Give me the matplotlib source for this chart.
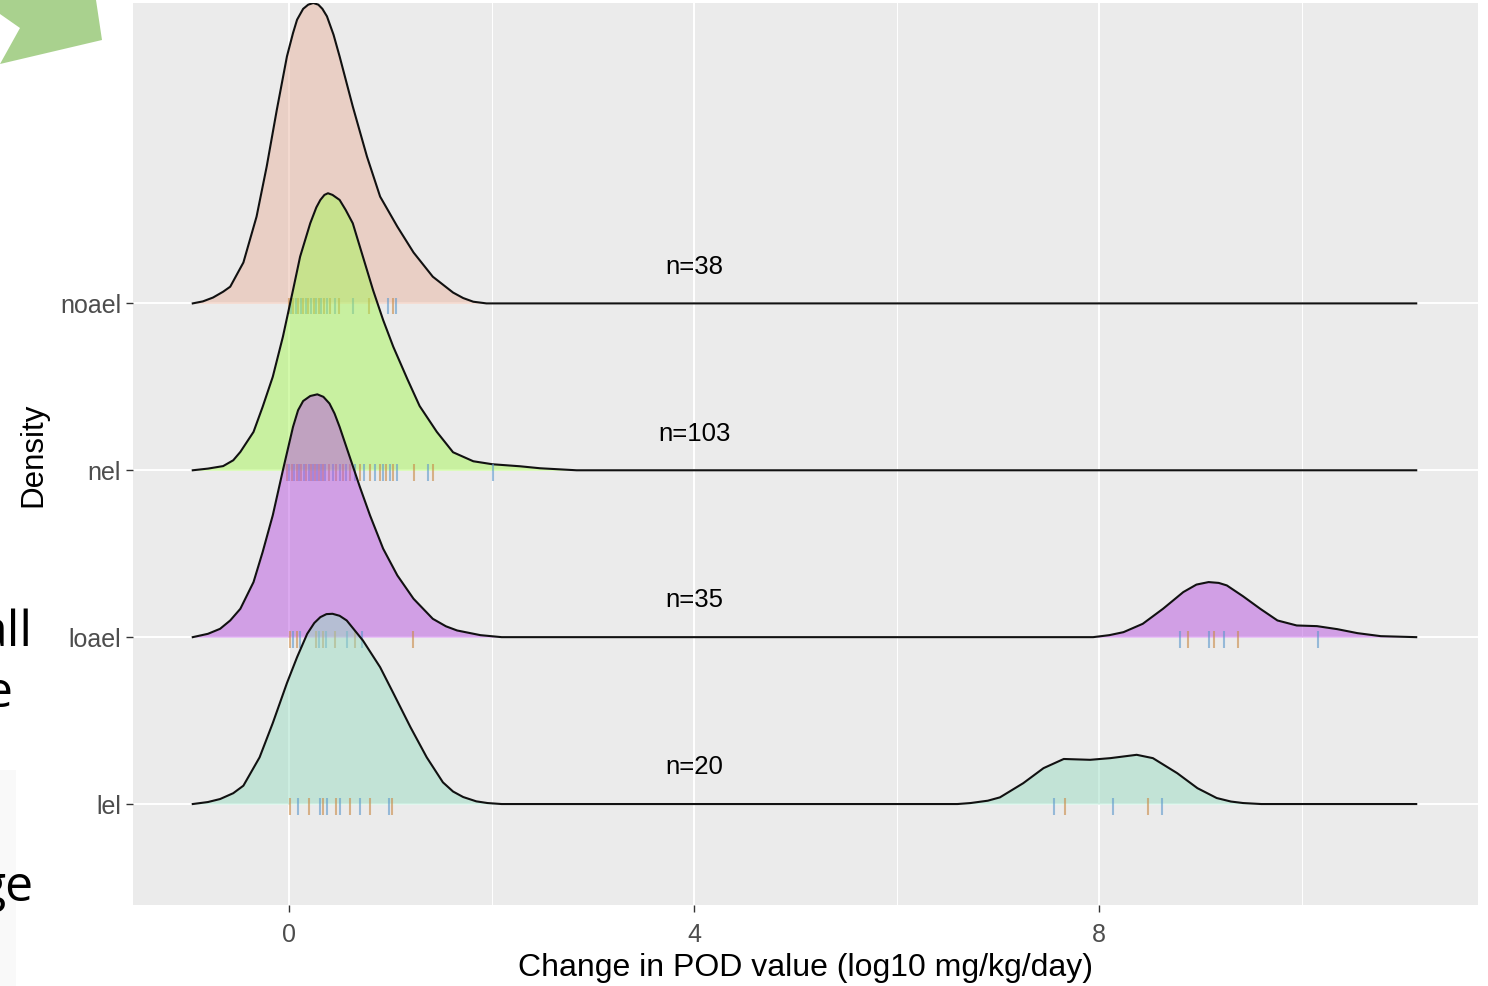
import numpy as np
import matplotlib.pyplot as plt
from matplotlib.patches import Polygon, Rectangle

plt.rcParams['font.family'] = ['Liberation Sans', 'DejaVu Sans']

# groups, bottom to top
groups = ['lel', 'loael', 'nel', 'noael']
counts = ['n=20', 'n=35', 'n=103', 'n=38']

# ridge outlines (x, height in row units)
lel_x = [-0.95, -0.8, -0.68, -0.55, -0.45, -0.29, -0.16, -0.02, 0.08, 0.18, 0.25, 0.31, 0.37,
         0.43, 0.50, 0.57, 0.73, 0.90, 1.03, 1.20, 1.36, 1.52, 1.62, 1.72, 1.85, 1.96, 2.1,
         6.6, 6.73, 6.9, 7.02, 7.25, 7.45, 7.65, 7.91, 8.11, 8.37, 8.53, 8.77, 8.97, 9.16,
         9.3, 9.42, 9.6, 11.13]
lel_h = [0, 0.012, 0.03, 0.065, 0.11, 0.28, 0.485, 0.725, 0.88, 1.02, 1.085, 1.12, 1.138,
         1.14, 1.128, 1.10, 0.98, 0.82, 0.665, 0.46, 0.28, 0.13, 0.075, 0.042, 0.016, 0.006, 0,
         0, 0.006, 0.02, 0.04, 0.125, 0.215, 0.27, 0.265, 0.275, 0.295, 0.275, 0.185, 0.095,
         0.036, 0.015, 0.006, 0, 0]

loael_x = [-0.95, -0.8, -0.68, -0.58, -0.48, -0.35, -0.26, -0.16, -0.06, 0.04, 0.09, 0.14,
           0.21, 0.28, 0.34, 0.40, 0.45, 0.50, 0.60, 0.70, 0.80, 0.93, 1.07, 1.23, 1.42, 1.55,
           1.66, 1.89, 2.1, 7.94, 8.1, 8.24, 8.43, 8.63, 8.83, 8.96, 9.08, 9.18, 9.26, 9.42,
           9.59, 9.76, 9.95, 10.15, 10.35, 10.55, 10.78, 11.13]
loael_h = [0, 0.02, 0.05, 0.1, 0.17, 0.33, 0.51, 0.73, 1.0, 1.26, 1.36, 1.415,
           1.445, 1.455, 1.44, 1.40, 1.34, 1.26, 1.08, 0.90, 0.73, 0.53, 0.37, 0.23, 0.11,
           0.065, 0.04, 0.012, 0, 0, 0.012, 0.03, 0.08, 0.17, 0.27, 0.315, 0.33, 0.325, 0.31,
           0.245, 0.17, 0.10, 0.07, 0.066, 0.048, 0.024, 0.006, 0]

nel_x = [-0.95, -0.8, -0.65, -0.55, -0.48, -0.35, -0.26, -0.16, -0.06, 0.04, 0.11, 0.21,
         0.27, 0.31, 0.35, 0.385, 0.43, 0.50, 0.56, 0.63, 0.73, 0.83, 0.93, 1.03, 1.17, 1.29,
         1.46, 1.62, 1.82, 2.01, 2.28, 2.48, 2.84, 11.13]
nel_h = [0, 0.01, 0.025, 0.06, 0.11, 0.23, 0.38, 0.56, 0.80, 1.08, 1.28, 1.48,
         1.575, 1.62, 1.65, 1.66, 1.65, 1.62, 1.56, 1.48, 1.28, 1.08, 0.90, 0.74, 0.545, 0.385,
         0.23, 0.108, 0.054, 0.036, 0.024, 0.012, 0, 0]

noael_x = [-0.95, -0.85, -0.75, -0.65, -0.58, -0.45, -0.32, -0.22, -0.12, -0.02, 0.04, 0.08,
           0.14, 0.19, 0.24, 0.29, 0.33, 0.375, 0.44, 0.50, 0.63, 0.77, 0.90, 1.07, 1.23, 1.42,
           1.62, 1.72, 1.82, 1.95, 11.13]
noael_h = [0, 0.012, 0.035, 0.07, 0.10, 0.245, 0.52, 0.82, 1.16, 1.48, 1.62, 1.70,
           1.765, 1.79, 1.80, 1.79, 1.765, 1.72, 1.61, 1.48, 1.18, 0.88, 0.64, 0.46, 0.305, 0.16,
           0.065, 0.032, 0.01, 0, 0]

# rug positions
lel_rug = [0.01, 0.09, 0.20, 0.31, 0.34, 0.38, 0.46, 0.50, 0.60, 0.70, 0.80, 0.99, 1.02,
           7.55, 7.66, 8.14, 8.48, 8.62]
loael_rug = [0.01, 0.04, 0.08, 0.11, 0.27, 0.30, 0.34, 0.37, 0.45, 0.57, 0.65, 0.72, 1.22,
             8.80, 8.88, 9.08, 9.13, 9.23, 9.37, 10.16]
nel_rug = [-0.02, 0.0, 0.03, 0.05, 0.08, 0.1, 0.12, 0.15, 0.17, 0.2, 0.22, 0.24, 0.26, 0.28,
           0.3, 0.32, 0.34, 0.36, 0.4, 0.43, 0.46, 0.5, 0.53, 0.56, 0.6, 0.65, 0.7, 0.74,
           0.8, 0.85, 0.9, 0.93, 0.96, 1.0, 1.03, 1.07, 1.23, 1.37, 1.42, 2.01]
noael_rug = [0.0, 0.02, 0.04, 0.07, 0.09, 0.12, 0.14, 0.17, 0.19, 0.22, 0.25, 0.27, 0.3,
             0.32, 0.35, 0.38, 0.41, 0.45, 0.49, 0.63, 0.79, 0.98, 1.03, 1.06]

curves_x = [lel_x, loael_x, nel_x, noael_x]
curves_h = [lel_h, loael_h, nel_h, noael_h]
rugs = [lel_rug, loael_rug, nel_rug, noael_rug]
fills = ['#9BDDC3', '#B955E1', '#A7F557', '#E9B5A1']
rug_cols = ['#C98A45', '#5C98CC']

W, H = 1488, 986
fig = plt.figure(figsize=(W / 100, H / 100), dpi=100)
ax = fig.add_axes([133 / W, 81 / H, 1345 / W, 902 / H])
ax.set_facecolor('#EBEBEB')

# top ridge drawn first so lower ridges sit in front
for i in [3, 2, 1, 0]:
    base = i + 1
    z = (3 - i) * 3
    xs = np.array(curves_x[i])
    ys = base + np.array(curves_h[i])
    ax.fill_between(xs, base, ys, color=fills[i], alpha=0.5, lw=0, zorder=2 + z)
    ax.plot(xs, ys, color='#111111', lw=1.5, zorder=3 + z, solid_joinstyle='round')
    for k, r in enumerate(rugs[i]):
        ax.plot([r, r], [base + 0.035, base - 0.065], color=rug_cols[k % 2], alpha=0.6,
                lw=1.5, zorder=4 + z, solid_capstyle='butt')
    ax.text(4.0, base + 0.22, counts[i], ha='center', va='center', fontsize=18.5,
            color='black', zorder=20)

ax.set_xlim(-1.54, 11.74)
ax.set_ylim(0.395, 5.80)
ax.set_xticks([0, 4, 8])
ax.set_xticks([2, 6, 10], minor=True)
ax.set_yticks([1, 2, 3, 4])
ax.set_yticklabels(groups)
ax.grid(which='major', color='white', lw=1.4, zorder=1)
ax.grid(which='minor', axis='x', color='white', lw=0.7, zorder=1)
ax.set_axisbelow(True)
for s in ax.spines.values():
    s.set_visible(False)
ax.tick_params(axis='both', which='major', length=5, width=1, color='#333333',
               labelcolor='#4D4D4D', labelsize=18)
ax.tick_params(axis='x', pad=8)
ax.tick_params(axis='y', pad=3.5)
ax.tick_params(which='minor', length=0)

fig.text(805 / W, 1 - 968 / H, 'Change in POD value (log10 mg/kg/day)', ha='center',
         va='center', fontsize=23)
fig.text(33 / W, 1 - 455 / H, 'Density', ha='center', va='center', rotation=90, fontsize=22.5)

# slide remnants around the chart
fig.patches.append(Rectangle((0, 0), 16 / W, (986 - 770) / H, transform=fig.transFigure,
                             facecolor='#F9F9F9', edgecolor='none', zorder=0))
arrow = [(0, 0), (96, 0), (102, 40), (0, 64), (20, 28), (0, 14)]
fig.patches.append(Polygon([(px / W, 1 - py / H) for px, py in arrow], closed=True,
                           transform=fig.transFigure, facecolor='#A9D18E',
                           edgecolor='none', zorder=0))
for txt, px, py in [('all', 33, 646), ('e', 12, 707), ('ge', 33, 901)]:
    fig.text(px / W, 1 - py / H, txt, ha='right', va='baseline', fontsize=36,
             family=['Open Sans', 'DejaVu Sans'], color='black')

fig.savefig('out.png', dpi=100)
